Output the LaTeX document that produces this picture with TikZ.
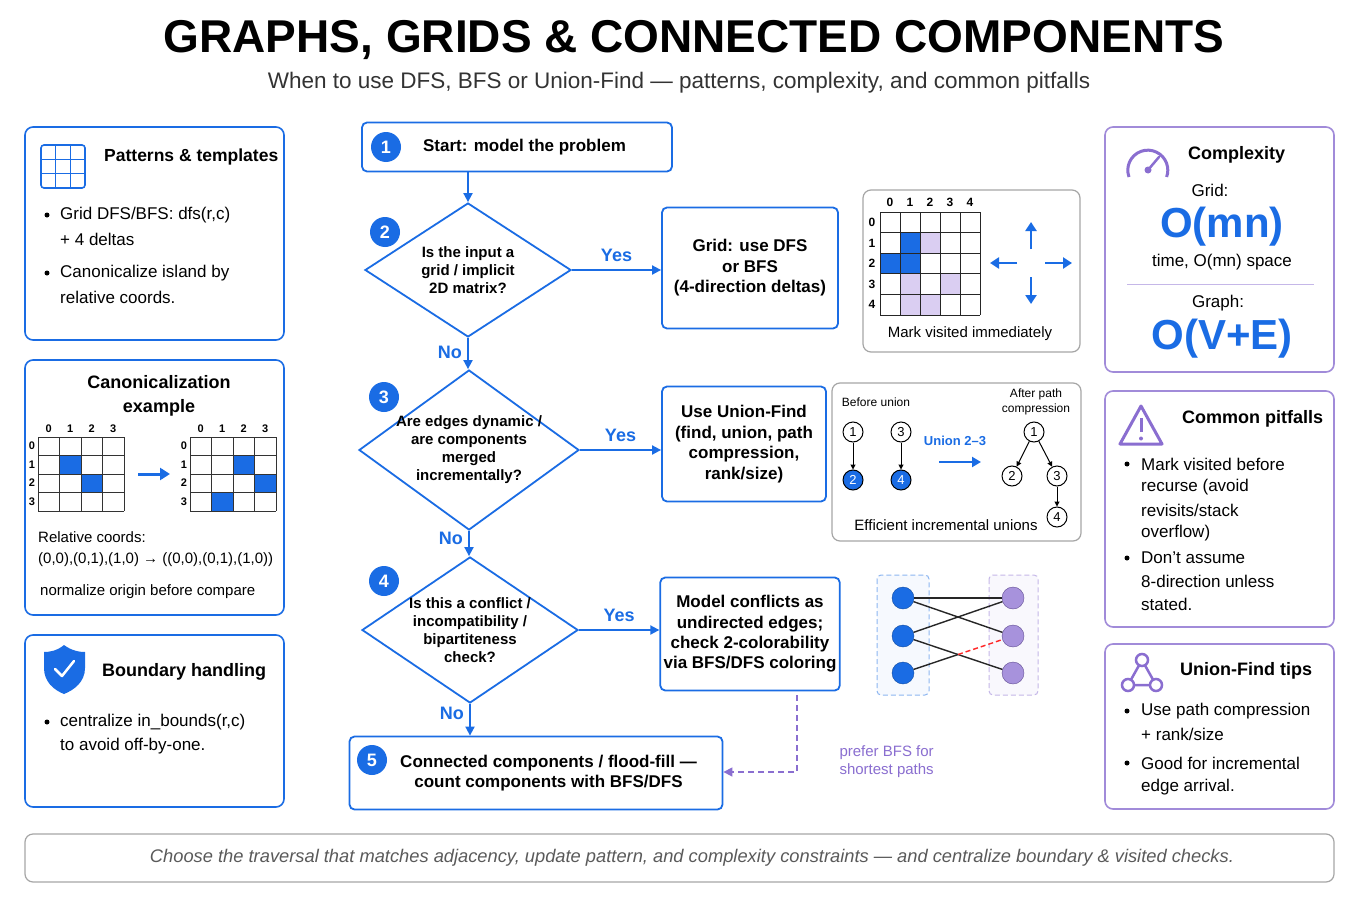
\documentclass[tikz,border=0pt]{standalone}
\usepackage{fontspec}
\setmainfont{Liberation Sans}
\usetikzlibrary{arrows.meta,shapes.geometric,calc}
\definecolor{bl}{RGB}{26,108,228}
\definecolor{pu}{RGB}{138,110,208}
\definecolor{lpu}{RGB}{218,206,242}
\definecolor{gr}{RGB}{90,90,90}
\newcommand{\fs}[1]{\fontsize{#1}{\dimexpr #1pt*6/5\relax}\selectfont}
\tikzset{
 panel/.style={draw=bl,line width=1.6pt,rounded corners=8pt,fill=white},
 ppanel/.style={draw=pu!80,line width=1.6pt,rounded corners=8pt,fill=white},
 gpanel/.style={draw=gray!70,line width=1.2pt,rounded corners=8pt,fill=white},
 box/.style={draw=bl,line width=1.8pt,rounded corners=5pt,fill=white,align=center,font=\fs{17}\bfseries},
 dia/.style={draw=bl,line width=1.8pt,diamond,inner sep=0pt},
 dtx/.style={align=center,font=\fs{15}\bfseries},
 num/.style={circle,fill=bl,text=white,font=\fs{18}\bfseries,minimum size=30pt,inner sep=0pt},
 flow/.style={bl,line width=1.8pt,-{Triangle[length=9pt,width=9pt]}},
 lab/.style={text=bl,font=\fs{18}\bfseries},
 txt/.style={font=\fs{17},anchor=west,inner sep=0pt},
 ttl/.style={font=\fs{18}\bfseries,inner sep=0pt},
 un/.style={circle,draw=black,line width=1pt,minimum size=20pt,inner sep=0pt,font=\fs{13}},
 unb/.style={un,fill=bl,text=white},
 blt/.style={circle,fill=black,inner sep=0pt,minimum size=5pt},
}
\begin{document}
\begin{tikzpicture}[x=1pt,y=-1pt]
\useasboundingbox (0,0) rectangle (1360,907);
\fill[white] (0,0) rectangle (1360,907);
% title
\node[font=\fs{46}\bfseries] (title) at (694,40) {GRAPHS, GRIDS \& CONNECTED COMPONENTS};
\node[font=\fs{22.5},text=black!80] (sub) at (679,83) {When to use DFS, BFS or Union-Find — patterns, complexity, and common pitfalls};

% ---- left panel 1
\draw[panel] (25,127) rectangle (284,340);
\draw[bl,line width=1.6pt,rounded corners=3pt] (41,145) rectangle (85,188);
\foreach \i in {1,2}{\draw[bl,line width=1.4pt] ({41+\i*14.7},145) -- ({41+\i*14.7},188); \draw[bl,line width=1.4pt] (41,{145+\i*14.3}) -- (85,{145+\i*14.3});}
\node[ttl,anchor=west,font=\fs{17.5}\bfseries] (p1t) at (104,157) {Patterns \& templates};
\foreach \y/\t/\b in {215/{Grid DFS/BFS: dfs(r,c)}/1,239/{+ 4 deltas}/0,273/{Canonicalize island by}/1,297/{relative coords.}/0}{
 \node[txt] at (60,\y) {\t};
 \ifnum\b=1 \node[blt] at (47,\y) {};\fi}

% ---- left panel 2
\draw[panel] (25,360) rectangle (284,615);
\node[ttl,align=center] (p2t) at (159,396) {Canonicalization\\[2pt]example};
\foreach \gx/\cells in {38/{1/1,2/2},190/{2/1,3/2,1/3}}{
 \foreach \c/\r in \cells {\fill[bl] ({\gx+\c*21.5},{437+\r*18.5}) rectangle +(21.5,18.5);}
 \foreach \i in {0,...,4}{
  \draw[black!80,line width=0.8pt] ({\gx+\i*21.5},437) -- ({\gx+\i*21.5},511);
  \draw[black!80,line width=0.8pt] (\gx,{437+\i*18.5}) -- ({\gx+86},{437+\i*18.5});}
 \foreach \i in {0,...,3}{
  \node[font=\fs{11}\bfseries] at ({\gx+10.75+\i*21.5},429) {\i};
  \node[font=\fs{11}\bfseries] at ({\gx-6},{446+\i*18.5}) {\i};}
}
\draw[bl,line width=3pt,-{Triangle[length=10pt,width=12pt]}] (138,474) -- (170,474);
\node[txt,font=\fs{15}] at (38,537) {Relative coords:};
\node[txt,font=\fs{15}] at (38,560) {(0,0),(0,1),(1,0) → ((0,0),(0,1),(1,0))};
\node[txt,font=\fs{15}] at (40,592) {normalize origin before compare};

% ---- left panel 3
\draw[panel] (25,635) rectangle (284,807);
\fill[bl] (64,645) .. controls (72,651) and (80,652) .. (85,652) -- (85,668) .. controls (85,682) and (74,690) .. (64,694) .. controls (54,690) and (44,682) .. (44,668) -- (44,652) .. controls (49,652) and (57,651) .. (64,645) -- cycle;
\draw[white,line width=2.5pt,line cap=round,line join=round] (55,669) -- (62,676) -- (74,661);
\node[ttl,anchor=west] (p3t) at (102,672) {Boundary handling};
\node[blt] at (47,722) {};
\node[txt] at (60,722) {centralize in\_bounds(r,c)};
\node[txt] at (60,746) {to avoid off-by-one.};

% ---- flow
\node[box,minimum width=310pt,minimum height=49pt] (s1) at (517,147) {\hspace*{15pt}Start: model the problem};
\node[num] at (386,147) {1};
\node[dia,minimum width=206pt,minimum height=134pt] (d2) at (468,270) {};
\node[dtx] at (d2.center) {Is the input a\\grid / implicit\\2D matrix?};
\node[num] at (385,232) {2};
\node[box,minimum width=176pt,minimum height=121pt] (b2) at (750,268) {Grid: use DFS\\or BFS\\(4-direction deltas)};
\node[dia,minimum width=220pt,minimum height=160pt] (d3) at (469,450) {};
\node[dtx] at (d3.center) {Are edges dynamic /\\are components\\merged\\incrementally?};
\node[num] at (384,397) {3};
\node[box,minimum width=164pt,minimum height=115pt] (b3) at (744,444) {Use Union-Find\\(find, union, path\\compression,\\rank/size)};
\node[dia,minimum width=216pt,minimum height=146pt] (d4) at (470,630) {};
\node[dtx] at (d4.center) {Is this a conflict /\\incompatibility /\\bipartiteness\\check?};
\node[num] at (384,581) {4};
\node[box,minimum width=179pt,minimum height=113pt] (b4) at (750,634) {Model conflicts as\\undirected edges;\\check 2-colorability\\via BFS/DFS coloring};
\node[box,minimum width=373pt,minimum height=73pt] (b5) at (536,773) {\hspace*{25pt}Connected components / flood-fill —\\\hspace*{25pt}count components with BFS/DFS};
\node[num] at (372,760) {5};

\draw[flow] (s1.south -| d2.north) -- (d2.north);
\draw[flow] (d2.east) -- (b2.west |- d2.east) node[lab,midway,above=4pt] {Yes};
\draw[flow] (d2.south) -- (d3.north -| d2.south) node[lab,pos=0.45,left=2pt] {No};
\draw[flow] (d3.east) -- (b3.west |- d3.east) node[lab,midway,above=4pt] {Yes};
\draw[flow] (d3.south) -- (d3.south |- d4.north) node[lab,pos=0.3,left=2pt] {No};
\draw[flow] (d4.east) -- (b4.west |- d4.east) node[lab,midway,above=4pt] {Yes};
\draw[flow] (d4.south) -- (b5.north -| d4.south) node[lab,pos=0.3,left=2pt] {No};
\coordinate (dp) at (797,695);
\draw[pu,line width=1.5pt,dash pattern=on 6pt off 4pt,-{Triangle[length=9pt,width=9pt]}] (dp) -- (797,772) -- (b5.east |- 0,772);
\node[text=pu,font=\fs{15},align=left,anchor=west] (pref) at (836,762) {prefer BFS for\\shortest paths};

% ---- grid visual
\draw[gpanel] (863,190) rectangle (1080,352);
\foreach \c/\r in {2/1,1/3,3/3,1/4,2/4}{\fill[lpu] ({880+\c*20},{212+\r*20.6}) rectangle +(20,20.6);}
\foreach \c/\r in {1/1,0/2,1/2}{\fill[bl] ({880+\c*20},{212+\r*20.6}) rectangle +(20,20.6);}
\foreach \i in {0,...,5}{
 \draw[black!85,line width=0.9pt] ({880+\i*20},212) -- ({880+\i*20},315);
 \draw[black!85,line width=0.9pt] (880,{212+\i*20.6}) -- (980,{212+\i*20.6});}
\foreach \i in {0,...,4}{
 \node[font=\fs{12}\bfseries] at ({890+\i*20},202) {\i};
 \node[font=\fs{12}\bfseries] at (872,{222.3+\i*20.6}) {\i};}
\coordinate (gc) at (1031,263);
\foreach \a/\b in {0/-1,0/1,-1/0,1/0}{\draw[bl,line width=2.4pt,-{Triangle[length=9pt,width=11pt]}] ($(gc)+(\a*14,\b*14)$) -- ($(gc)+(\a*41,\b*41)$);}
\node[font=\fs{15}] at (970,334) {Mark visited immediately};

% ---- union-find visual
\draw[gpanel] (832,383) rectangle (1081,541);
\node[font=\fs{12}] at (876,402) {Before union};
\node[un] (a1) at (853,432) {1};
\node[unb] (a2) at (853,480) {2};
\node[un] (a3) at (901,432) {3};
\node[unb] (a4) at (901,480) {4};
\draw[-{Triangle[length=5pt,width=5pt]},line width=1pt] (a1) -- (a2);
\draw[-{Triangle[length=5pt,width=5pt]},line width=1pt] (a3) -- (a4);
\node[text=bl,font=\fs{13}\bfseries] at (955,441) {Union 2–3};
\draw[bl,line width=2.2pt,-{Triangle[length=9pt,width=10pt]}] (939,462) -- (981,462);
\node[font=\fs{12},align=center] at (1036,402) {After path\\compression};
\node[un] (c1) at (1034,432) {1};
\node[un] (c2) at (1012,476) {2};
\node[un] (c3) at (1057,476) {3};
\node[un] (c4) at (1057,517) {4};
\foreach \u/\v in {c1/c2,c1/c3,c3/c4}{\draw[-{Triangle[length=5pt,width=5pt]},line width=1pt] (\u) -- (\v);}
\node[font=\fs{15}] at (946,525) {Efficient incremental unions};

% ---- bipartite visual
\draw[bl!50,dash pattern=on 5pt off 3pt,line width=1pt,fill=bl!4,rounded corners=4pt] (877,575) rectangle (929,695);
\draw[pu!50,dash pattern=on 5pt off 3pt,line width=1pt,fill=pu!5,rounded corners=4pt] (989,575) rectangle (1038,695);
\foreach \i/\y in {1/598,2/636,3/673}{
 \node[circle,fill=bl,draw=bl!70!black,minimum size=22pt,inner sep=0pt] (L\i) at (903,\y) {};
 \node[circle,fill=pu!75,draw=pu!70!black,minimum size=22pt,inner sep=0pt] (R\i) at (1013,\y) {};}
\foreach \u/\v in {L1/R1,L1/R2,L2/R1,L2/R3}{\draw[black!85,line width=1.4pt] (\u) -- (\v);}
\draw[black!85,line width=1.4pt] (L3) -- ($(L3)!0.5!(R2)$) coordinate (mx);
\draw[red!85,line width=1.4pt,dash pattern=on 5pt off 3pt] (mx) -- (R2);

% ---- right panels
\draw[ppanel] (1105,127) rectangle (1334,372);
\draw[pu,line width=3pt] (1129,177) arc[start angle=-200,end angle=20,radius=20];
\draw[pu,line width=2.5pt,line cap=round] (1148,170) -- (1159,157);
\fill[pu] (1148,170) circle (3.5pt);
\node[ttl,anchor=west] at (1188,155) {Complexity};
\node[font=\fs{17}] at (1210,190) {Grid:};
\node[text=bl,font=\fs{42}\bfseries] at (1222,227) {O(mn)};
\node[font=\fs{17}] at (1222,262) {time, O(mn) space};
\draw[pu!50,line width=1pt] (1127,284) -- (1314,284);
\node[font=\fs{17}] at (1218,303) {Graph:};
\node[text=bl,font=\fs{42}\bfseries] at (1222,339) {O(V+E)};

\draw[ppanel] (1105,391) rectangle (1334,627);
\draw[pu,line width=3pt,line join=round] (1141,406) -- (1162,444) -- (1120,444) -- cycle;
\draw[pu,line width=3pt] (1141,418) -- (1141,432);
\fill[pu] (1141,438.5) circle (2pt);
\node[ttl,anchor=west] at (1182,419) {Common pitfalls};
\foreach \y/\t/\b in {464/{Mark visited before}/1,487/{recurse (avoid}/0,510/{revisits/stack}/0,533/{overflow)}/0,558/{Don't assume}/1,581/{8-direction unless}/0,604/{stated.}/0}{
 \node[txt] at (1141,\y) {\t};
 \ifnum\b=1 \node[blt] at (1127,\y) {};\fi}

\draw[ppanel] (1105,644) rectangle (1334,809);
\draw[pu,line width=2.5pt] (1142,660) -- (1128,685) -- (1156,685) -- cycle;
\foreach \p in {(1142,660),(1128,685),(1156,685)}{\draw[pu,line width=2.5pt,fill=white] \p circle (6pt);}
\node[ttl,anchor=west] at (1180,671) {Union-Find tips};
\foreach \y/\t/\b in {711/{Use path compression}/1,734/{+ rank/size}/0,763/{Good for incremental}/1,787/{edge arrival.}/0}{
 \node[txt] at (1141,\y) {\t};
 \ifnum\b=1 \node[blt] at (1127,\y) {};\fi}

% ---- footer
\draw[gpanel] (25,834) rectangle (1334,882);
\node[font=\fs{18.3}\itshape,text=gr] (foot) at (692,858) {Choose the traversal that matches adjacency, update pattern, and complexity constraints — and centralize boundary \& visited checks.};
\end{tikzpicture}
\end{document}
